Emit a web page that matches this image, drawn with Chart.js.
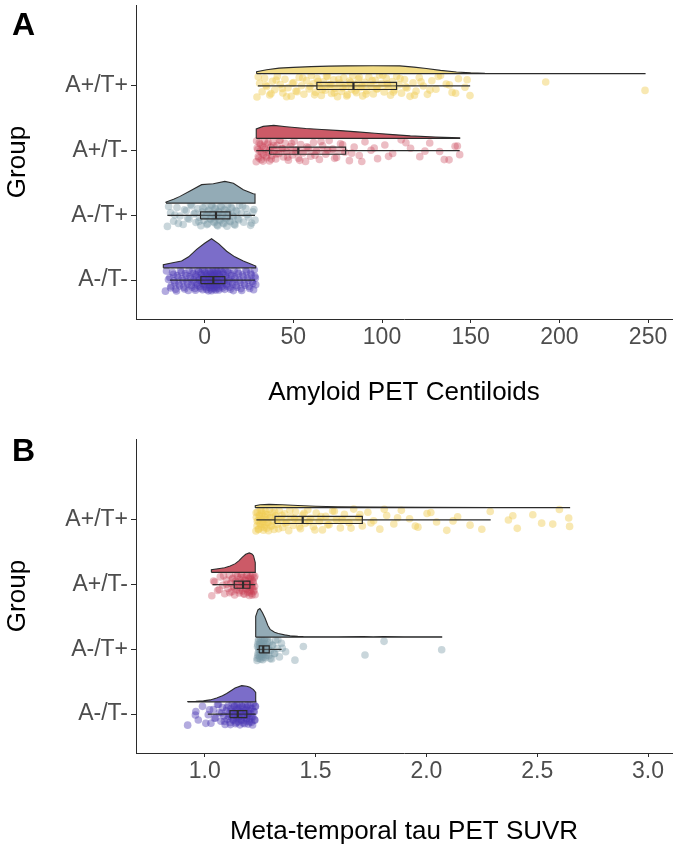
<!DOCTYPE html>
<html>
<head>
<meta charset="utf-8">
<script src="https://cdn.jsdelivr.net/npm/chart.js@4.4.0/dist/chart.umd.min.js"></script>
<style>
html,body{margin:0;padding:0;background:#fff;overflow:hidden}
#wrap{position:relative;width:680px;height:846px}
canvas{position:absolute;left:0}
#cA{top:0}
#cB{top:423px}
.tag{position:absolute;left:12px;font:bold 32px "Liberation Sans",Arial,sans-serif;color:#000;line-height:32px}
</style>
</head>
<body>
<div id="wrap">
  <canvas id="cA" width="680" height="423"></canvas>
  <canvas id="cB" width="680" height="423"></canvas>
  <div class="tag" style="top:8px">A</div>
  <div class="tag" style="top:434px">B</div>
</div>
<script>
// groups, listed top to bottom
const groups = ['A+/T+','A+/T-','A-/T+','A-/T-']

const amyTicks = [0,50,100,150,200,250]
const amyTickLabels = ['0','50','100','150','200','250']
const tauTicks = [1.0,1.5,2.0,2.5,3.0]
const tauTickLabels = ['1.0','1.5','2.0','2.5','3.0']

/* -------- panel A : Amyloid PET Centiloids -------- */
// box stats per group: whisker low, Q1, median, Q3, whisker high
const amyLo  = [30, 29.1, -21, -19.6]
const amyQ1  = [63.3, 36.6, -2.3, -2.1]
const amyMed = [83.9, 52.8, 6.4, 4.9]
const amyQ3  = [108.2, 79.5, 14.3, 11.4]
const amyHi  = [149.7, 143.8, 28.4, 28.4]

const amyApTp = [29.5,31,32.4,33.8,35,36.7,38.2,39.5,41,42.6,44.1,45.3,47,48.8,50.2,51.5,53.3,54.6,56,57.4,58.9,60.1,61.2,62.5,63.4,64.6,65.8,66.9,68,69.3,70.2,71.5,72.8,73.6,74.9,76.2,77.1,78.4,79.6,80.5,81.7,82.8,83.5,84.4,85.6,86.7,87.9,89.1,90.3,91.4,92.6,93.8,95.1,96.2,97.5,98.6,99.9,101.2,102.4,103.5,104.8,105.9,107.1,108.3,109.6,111,112.7,114.1,115.8,117.5,119.2,121,123.3,125.6,128.1,130.4,133,136.2,139.5,143.1,146.8,149.6,192.3,248.3,
  30.2,34.5,37.4,40.3,43.7,46.2,49.5,52.1,55.3,59.5,62,64,66.3,68.7,71,73.1,75.6,77.9,80.1,82.2,84.9,87.2,88.6,91,94.4,97,100.5,103,106.4,110.2,113.4,118.3,122,127,131.7,138,141.5,148]
const amyApTm = [29.1,29.6,30.2,30.8,31.3,31.9,32.5,33.1,33.6,34.2,34.9,35.4,36,36.6,37.3,37.9,38.6,39.4,40.1,40.9,41.8,42.6,43.5,44.4,45.3,46.3,47.2,48.3,49.4,50.5,51.7,52.9,54.2,55.5,56.9,58.4,59.8,61.4,63,64.7,66.5,68.3,70.2,72.2,74.4,76.6,79.1,81.6,84.3,87.2,90.4,93.8,97.5,101.6,106,110.8,116.1,121.3,126.9,132.5,137.8,141.2,143.8,
  29.3,30,30.6,31.5,32.2,32.9,33.4,34.6,35.8,36.3,37.6,39,40.5,42.2,44,46.8,49,51.2,53.6,57.7,62.2,65.6,69.3,73.3,77.8,82.9,88.6,95.6,103.7,113.5,124.2,135.1,142.5]
const amyAmTp = [-21,-19.2,-17.5,-15.6,-13.9,-12.1,-10.4,-8.8,-7.3,-6,-4.9,-3.8,-2.9,-2.1,-1.4,-0.6,0.2,0.9,1.7,2.4,3.1,3.8,4.5,5.1,5.8,6.4,7,7.7,8.3,9,9.7,10.4,11.1,11.8,12.6,13.3,14.1,14.9,15.8,16.7,17.6,18.6,19.7,20.8,22,23.3,24.6,25.9,27.2,28.4,
  -20.3,-16.8,-14.8,-11.4,-9.6,-7.9,-5.4,-3.3,-1,0.6,1.3,2.1,3.4,4.2,4.8,5.5,6.1,6.7,7.4,8,8.7,9.4,10.1,10.8,11.5,12.2,13,13.7,14.5,15.4,16.2,17.1,18.1,19.2,21.4,23.9,26.5,27.8]
const amyAmTm = [-22.1,-19.6,-18.9,-18.1,-17.2,-16.4,-15.5,-14.6,-13.6,-12.7,-11.8,-10.9,-10,-9.2,-8.4,-7.6,-6.9,-6.2,-5.5,-4.9,-4.3,-3.7,-3.2,-2.7,-2.2,-1.7,-1.2,-0.8,-0.3,0.1,0.5,0.9,1.3,1.7,2.1,2.4,2.8,3.1,3.5,3.8,4.1,4.4,4.7,5,5.3,5.6,5.9,6.2,6.5,6.8,7.1,7.5,7.8,8.2,8.6,9,9.4,9.8,10.3,10.8,11.3,11.8,12.3,12.9,13.5,14.1,14.8,15.5,16.2,17,17.8,18.7,19.6,20.5,21.4,22.3,23.2,24.1,25,25.9,26.8,27.6,28.3,28.8,
  -21.5,-20.4,-19.2,-17.6,-16.8,-15.9,-15,-14.1,-13.1,-12.2,-11.3,-10.4,-9.6,-8.8,-8,-7.2,-6.5,-5.8,-5.2,-4.6,-4,-3.4,-2.9,-2.4,-1.9,-1.4,-1,-0.5,-0.1,0.3,0.7,1.1,1.5,1.9,2.2,2.6,2.9,3.3,3.6,3.9,4.2,4.5,4.8,5.1,5.4,5.7,6,6.3,6.6,6.9,7.3,7.6,8,8.4,8.8,9.2,9.6,10.1,10.5,11,11.5,12,12.6,13.2,13.8,14.5,15.2,15.9,16.6,17.4,18.2,19.1,20,20.9,21.8,22.7,23.6,24.5,25.4,26.3,27.2,28,28.6]

// density outlines: [value, height in group units]
const amyDensApTp = [[29.3,0.03],[35,0.06],[42,0.085],[50,0.097],[60,0.108],[70,0.116],[80,0.12],[95,0.121],[110,0.12],[118,0.1],[125,0.08],[133,0.05],[142,0.026],[150,0.012],[158,0.005],[170,0.003],[200,0.002],[248.3,0.001]]
const amyDensApTm = [[29.1,0.146],[33,0.185],[39,0.2],[46,0.18],[57,0.152],[66,0.136],[76.5,0.12],[86,0.1],[96,0.08],[106,0.058],[116,0.038],[130,0.02],[143.8,0.01]]
const amyDensAmTp = [[-21.8,0.017],[-17.5,0.06],[-13.9,0.104],[-8,0.19],[-1.7,0.285],[4.9,0.298],[11.4,0.335],[16.2,0.308],[21.8,0.208],[27.4,0.144],[28.4,0.14]]
const amyDensAmTm = [[-23.3,0.05],[-18,0.08],[-13,0.105],[-9,0.17],[-4.5,0.285],[0,0.38],[3.9,0.45],[8,0.37],[12.4,0.257],[17,0.17],[21.8,0.105],[26,0.06],[28.8,0.027]]

/* -------- panel B : Meta-temporal tau PET SUVR -------- */
const tauLo  = [1.233, 1.035, 1.235, 1.014]
const tauQ1  = [1.317, 1.133, 1.246, 1.114]
const tauMed = [1.442, 1.173, 1.264, 1.149]
const tauQ3  = [1.711, 1.204, 1.291, 1.19]
const tauHi  = [2.29, 1.228, 1.347, 1.23]

const tauApTp = [1.231,1.233,1.236,1.238,1.241,1.243,1.246,1.249,1.251,1.254,1.256,1.259,1.262,1.265,1.268,1.271,1.274,1.277,1.28,1.283,1.286,1.292,1.295,1.299,1.306,1.31,1.313,1.32,1.328,1.336,1.344,1.352,1.361,1.37,1.379,1.389,1.399,1.41,1.421,1.432,1.442,1.453,1.465,1.477,1.49,1.503,1.517,1.531,1.546,1.561,1.577,1.594,1.612,1.63,1.651,1.672,1.695,1.711,1.736,1.762,1.79,1.821,1.853,1.887,1.924,1.962,2.003,2.046,2.092,2.141,2.197,2.288,2.37,2.41,2.48,2.52,2.6,2.642,2.646,
  1.232,1.237,1.242,1.247,1.252,1.257,1.263,1.269,1.275,1.281,1.288,1.297,1.303,1.316,1.324,1.333,1.348,1.366,1.384,1.405,1.427,1.448,1.471,1.497,1.524,1.555,1.585,1.62,1.66,1.7,1.75,1.81,1.87,1.95,2.02,2.12,2.25,2.39,2.57]
const tauApTm = [1.032,1.045,1.058,1.07,1.081,1.09,1.098,1.105,1.111,1.117,1.122,1.127,1.131,1.135,1.139,1.143,1.147,1.151,1.155,1.158,1.162,1.165,1.168,1.171,1.174,1.177,1.18,1.183,1.186,1.189,1.192,1.194,1.197,1.199,1.201,1.203,1.205,1.207,1.209,1.211,1.213,1.215,1.217,1.219,1.221,1.223,1.225,1.227,
  1.04,1.065,1.085,1.1,1.113,1.124,1.133,1.141,1.149,1.156,1.163,1.169,1.175,1.181,1.187,1.193,1.198,1.202,1.206,1.21,1.214,1.218,1.222,1.226]
const tauAmTp = [1.236,1.238,1.24,1.242,1.244,1.246,1.248,1.25,1.252,1.254,1.256,1.258,1.26,1.262,1.264,1.266,1.268,1.27,1.273,1.276,1.279,1.282,1.285,1.289,1.293,1.297,1.302,1.307,1.313,1.32,1.328,1.337,1.346,1.365,1.407,1.445,1.723,1.809,2.069,
  1.237,1.239,1.241,1.243,1.245,1.247,1.249,1.251,1.253,1.255,1.257,1.259,1.261,1.263,1.265,1.267,1.271,1.274,1.278,1.283,1.288,1.295,1.304,1.316,1.33,1.35]
const tauAmTm = [0.923,0.96,0.971,0.99,1.016,1.028,1.039,1.049,1.058,1.066,1.073,1.08,1.086,1.092,1.097,1.102,1.106,1.11,1.114,1.118,1.121,1.124,1.127,1.13,1.133,1.136,1.139,1.141,1.144,1.146,1.149,1.151,1.154,1.156,1.159,1.161,1.164,1.167,1.17,1.173,1.176,1.179,1.182,1.185,1.188,1.19,1.193,1.196,1.199,1.202,1.205,1.208,1.211,1.214,1.217,1.22,1.223,1.226,1.229,
  0.958,1.005,1.022,1.044,1.062,1.077,1.089,1.1,1.108,1.116,1.122,1.128,1.134,1.138,1.143,1.147,1.152,1.157,1.162,1.166,1.171,1.175,1.18,1.184,1.189,1.194,1.198,1.203,1.207,1.212,1.216,1.221,1.225,1.228]

const tauDensApTp = [[1.228,0.03],[1.25,0.045],[1.29,0.05],[1.35,0.045],[1.42,0.033],[1.5,0.022],[1.6,0.013],[1.75,0.007],[2.0,0.004],[2.3,0.003],[2.646,0.002]]
const tauDensApTm = [[1.03,0.042],[1.06,0.055],[1.09,0.07],[1.115,0.1],[1.138,0.135],[1.155,0.18],[1.169,0.231],[1.185,0.28],[1.201,0.3],[1.213,0.285],[1.22,0.258],[1.228,0.15]]
const tauDensAmTp = [[1.23,0.32],[1.24,0.42],[1.249,0.44],[1.26,0.38],[1.272,0.295],[1.285,0.18],[1.295,0.12],[1.315,0.075],[1.332,0.057],[1.36,0.035],[1.385,0.022],[1.42,0.012],[1.445,0.009],[1.6,0.006],[1.716,0.008],[1.76,0.006],[1.806,0.008],[1.9,0.005],[2.069,0.004]]
const tauDensAmTm = [[0.923,0.005],[0.96,0.008],[0.994,0.015],[1.025,0.03],[1.054,0.058],[1.08,0.095],[1.099,0.13],[1.12,0.175],[1.137,0.213],[1.167,0.25],[1.19,0.24],[1.204,0.225],[1.22,0.19],[1.23,0.145]]

/* -------- styles -------- */
const cols = [
  {vio:'#F2DC86', pt:'rgba(240,205,85,0.45)', box:'rgba(240,205,85,0.35)'},
  {vio:'#CC5A67', pt:'rgba(200,62,82,0.34)',  box:'rgba(200,62,82,0.3)'},
  {vio:'#93ABB6', pt:'rgba(120,152,166,0.4)', box:'rgba(120,152,166,0.35)'},
  {vio:'#7B6DC9', pt:'rgba(75,55,178,0.42)', box:'rgba(75,55,178,0.3)'}
]
const INK = '#2b2b2b'
const FONT = '"Liberation Sans", Arial, sans-serif'
Chart.defaults.font.family = FONT

const VIO_OFF = 0.19   // violin baseline above group centre
const BOX_H = 0.055    // half box height
const JIT = 0.17       // half jitter band
// deterministic spread of points inside the jitter band (golden-ratio sequence)
const jit = k => (((k * 0.6180339887) % 1) * 2 - 1) * JIT

function panel(id, p){
  const ds = []
  groups.forEach((g,i)=>{
    const c = 4 - i
    const col = cols[i]
    ds.push({
      data: p.points[i].map((v,k)=>({x:v, y:c + jit(k)})),
      showLine:false, pointRadius:3.8, pointBackgroundColor:col.pt, pointBorderWidth:0, order:5
    })
    const base = c + VIO_OFF
    const d = p.dens[i]
    const poly = [{x:d[0][0], y:base}].concat(d.map(([x,h])=>({x, y:base + h})))
    poly.push({x:d[d.length-1][0], y:base}, {x:d[0][0], y:base})
    ds.push({data:poly, borderColor:INK, borderWidth:1.1, backgroundColor:col.vio, fill:'shape', pointRadius:0, order:4})
    ds.push({data:[{x:p.lo[i], y:c},{x:p.hi[i], y:c}], borderColor:INK, borderWidth:1.2, pointRadius:0, order:3})
    ds.push({
      data:[{x:p.q1[i],y:c-BOX_H},{x:p.q3[i],y:c-BOX_H},{x:p.q3[i],y:c+BOX_H},{x:p.q1[i],y:c+BOX_H},{x:p.q1[i],y:c-BOX_H}],
      borderColor:INK, borderWidth:1.2, backgroundColor:col.box, fill:'shape', pointRadius:0, order:2
    })
    ds.push({data:[{x:p.med[i],y:c-BOX_H},{x:p.med[i],y:c+BOX_H}], borderColor:INK, borderWidth:2.2, pointRadius:0, order:1})
  })

  new Chart(document.getElementById(id), {
    type:'line',
    data:{datasets:ds},
    options:{
      responsive:false, animation:false, devicePixelRatio:1,
      layout:{padding:{top:p.padTop, right:8, left:0, bottom:0}},
      plugins:{legend:{display:false}, tooltip:{enabled:false}},
      elements:{line:{tension:0}},
      scales:{
        x:{
          type:'linear', min:p.xMin, max:p.xMax,
          afterBuildTicks:s=>{ s.ticks = p.ticks.map(v=>({value:v})) },
          afterFit:s=>{ s.height = p.xHeight; s.paddingLeft = 0; s.paddingRight = 0 },
          ticks:{color:'#4d4d4d', font:{size:23}, padding:1, callback:(v)=>p.tickLabels[p.ticks.indexOf(v)]},
          grid:{drawOnChartArea:false, tickLength:4, color:INK, lineWidth:1},
          border:{color:INK, width:1},
          title:{display:true, text:p.title, color:'#000', font:{size:26, lineHeight:1}, padding:{top:0, bottom:p.titlePad}}
        },
        y:{
          type:'linear', min:0.4, max:5.25,
          afterBuildTicks:s=>{ s.ticks = [1,2,3,4].map(v=>({value:v})) },
          afterFit:s=>{ s.width = 136; s.paddingTop = 0; s.paddingBottom = 0 },
          ticks:{color:'#4d4d4d', font:{size:23}, padding:3, callback:(v)=>groups[4 - v]},
          grid:{drawOnChartArea:false, tickLength:5, color:INK, lineWidth:1},
          border:{color:INK, width:1},
          title:{display:true, text:'Group', color:'#000', font:{size:26, lineHeight:1}, padding:{top:5, bottom:0}}
        }
      }
    }
  })
}

panel('cA', {
  points:[amyApTp, amyApTm, amyAmTp, amyAmTm],
  dens:[amyDensApTp, amyDensApTm, amyDensAmTp, amyDensAmTm],
  lo:amyLo, q1:amyQ1, med:amyMed, q3:amyQ3, hi:amyHi,
  xMin:-38.7, xMax:263.5, ticks:amyTicks, tickLabels:amyTickLabels,
  title:'Amyloid PET Centiloids', padTop:5, xHeight:104, titlePad:17
})
panel('cB', {
  points:[tauApTp, tauApTm, tauAmTp, tauAmTm],
  dens:[tauDensApTp, tauDensApTm, tauDensAmTp, tauDensAmTm],
  lo:tauLo, q1:tauQ1, med:tauMed, q3:tauQ3, hi:tauHi,
  xMin:0.69, xMax:3.108, ticks:tauTicks, tickLabels:tauTickLabels,
  title:'Meta-temporal tau PET SUVR', padTop:16, xHeight:93, titlePad:1.3
})
</script>
</body>
</html>
